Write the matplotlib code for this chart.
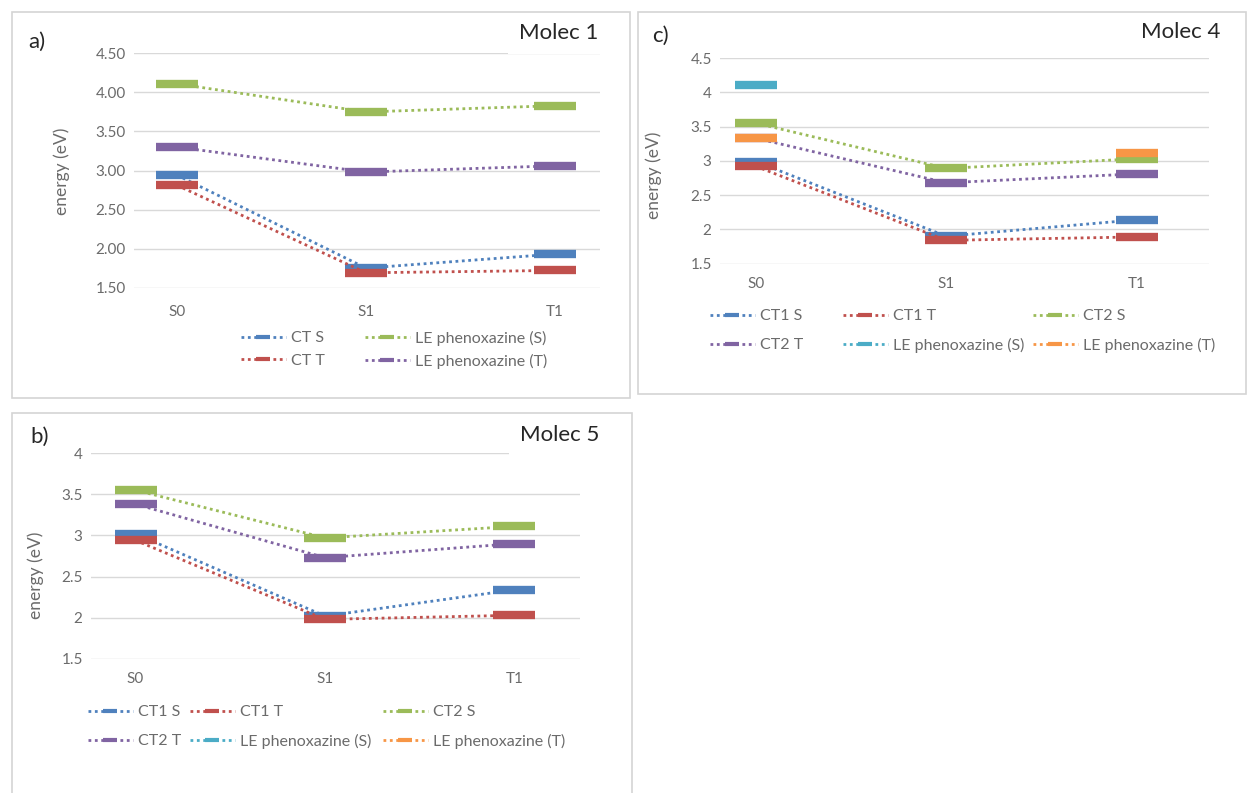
import numpy as np
import matplotlib
matplotlib.use('Agg')
import matplotlib.pyplot as plt
from matplotlib.lines import Line2D
from matplotlib.patches import Rectangle

plt.rcParams['font.family'] = ['Lato', 'DejaVu Sans']

W, H = 1248, 793
nan = np.nan

states = ['S0', 'S1', 'T1']

# panel a) Molec 1
a_ct_s = [2.94, 1.75, 1.93]
a_ct_t = [2.81, 1.69, 1.72]
a_le_s = [4.11, 3.75, 3.83]
a_le_t = [3.30, 2.98, 3.06]
a_yticks = [1.5, 2.0, 2.5, 3.0, 3.5, 4.0, 4.5]

# panel c) Molec 4
c_ct1_s = [2.99, 1.90, 2.14]
c_ct1_t = [2.92, 1.84, 1.89]
c_ct2_s = [3.55, 2.89, 3.03]
c_ct2_t = [3.33, 2.68, 2.81]
c_le_s = [4.10, nan, nan]
c_le_t = [3.34, nan, 3.11]
c_yticks = [1.5, 2.0, 2.5, 3.0, 3.5, 4.0, 4.5]

# panel b) Molec 5
b_ct1_s = [3.02, 2.02, 2.34]
b_ct1_t = [2.94, 1.98, 2.03]
b_ct2_s = [3.55, 2.97, 3.11]
b_ct2_t = [3.38, 2.73, 2.90]
b_le_s = [nan, nan, nan]
b_le_t = [nan, nan, nan]
b_yticks = [1.5, 2.0, 2.5, 3.0, 3.5, 4.0]

BLUE, RED, GREEN = '#4F81BD', '#C0504D', '#9BBB59'
PURPLE, CYAN, ORANGE = '#8064A2', '#4BACC6', '#F79646'
GREY = '#6b6b6b'
DOT = (0, (1, 1.3))


def fx(x):
    return x / W


def fy(y):
    return 1 - y / H


def panel(fig, box, series, yticks, fmt, xlim, xpad):
    l, t, r, b = box
    ax = fig.add_axes([fx(l), fy(b), (r - l) / W, (b - t) / H])
    x = np.arange(len(states))
    for vals, col in series:
        ax.plot(x, vals, color=col, ls=DOT, lw=2, marker='_', ms=30, mew=6)
    ax.set_xlim(*xlim)
    ax.set_ylim(yticks[0] - 0.005, yticks[-1] + 0.005)
    ax.set_yticks(yticks)
    ax.set_yticklabels([fmt.format(v) for v in yticks])
    ax.set_xticks(x)
    ax.set_xticklabels(states)
    ax.grid(axis='y', color='#d9d9d9', lw=1)
    ax.set_axisbelow(True)
    for s in ax.spines.values():
        s.set_visible(False)
    ax.tick_params(axis='y', length=0, colors=GREY, labelsize=11, pad=6)
    ax.tick_params(axis='x', length=0, colors=GREY, labelsize=11, pad=xpad)
    return ax


def legend_entry(fig, label, col, x, y):
    h = Line2D([], [], color=col, ls=DOT, lw=2, marker='_', ms=10, mew=3)
    fig.legend(handles=[h], labels=[label], loc='center left',
               bbox_to_anchor=(fx(x), fy(y)), frameon=False, borderpad=0,
               borderaxespad=0, handlelength=2.8, handletextpad=0.35,
               numpoints=1, fontsize=11.5, labelcolor=GREY)


fig = plt.figure(figsize=(12.48, 7.93), dpi=100)

# grey frames round each chart
for (l, t, r, b) in [(12, 12, 630, 398), (638, 12, 1246, 394), (12, 413, 632, 800)]:
    fig.add_artist(Rectangle((fx(l), fy(b)), (r - l) / W, (b - t) / H,
                             transform=fig.transFigure, fill=False,
                             ec='#d4d4d4', lw=1.2, zorder=10))

panel(fig, (134, 53, 600, 288),
      [(a_ct_s, BLUE), (a_ct_t, RED), (a_le_s, GREEN), (a_le_t, PURPLE)],
      a_yticks, '{:.2f}', (-0.228, 2.238), 12)
panel(fig, (720, 57.7, 1209, 264),
      [(c_ct1_s, BLUE), (c_ct1_t, RED), (c_ct2_s, GREEN), (c_ct2_t, PURPLE),
       (c_le_s, CYAN), (c_le_t, ORANGE)],
      c_yticks, '{:g}', (-0.189, 2.381), 9)
panel(fig, (91, 452.7, 580, 659.3),
      [(b_ct1_s, BLUE), (b_ct1_t, RED), (b_ct2_s, GREEN), (b_ct2_t, PURPLE),
       (b_le_s, CYAN), (b_le_t, ORANGE)],
      b_yticks, '{:g}', (-0.235, 2.346), 9)

# legends
legend_entry(fig, 'CT S', BLUE, 241, 338)
legend_entry(fig, 'CT T', RED, 241, 361)
legend_entry(fig, 'LE phenoxazine (S)', GREEN, 365, 338)
legend_entry(fig, 'LE phenoxazine (T)', PURPLE, 365, 361)

legend_entry(fig, 'CT1 S', BLUE, 710, 316)
legend_entry(fig, 'CT1 T', RED, 843, 316)
legend_entry(fig, 'CT2 S', GREEN, 1033, 316)
legend_entry(fig, 'CT2 T', PURPLE, 710, 345)
legend_entry(fig, 'LE phenoxazine (S)', CYAN, 843, 345)
legend_entry(fig, 'LE phenoxazine (T)', ORANGE, 1033, 345)

legend_entry(fig, 'CT1 S', BLUE, 88, 712)
legend_entry(fig, 'CT1 T', RED, 190, 712)
legend_entry(fig, 'CT2 S', GREEN, 383, 712)
legend_entry(fig, 'CT2 T', PURPLE, 88, 741)
legend_entry(fig, 'LE phenoxazine (S)', CYAN, 190, 741)
legend_entry(fig, 'LE phenoxazine (T)', ORANGE, 383, 741)

# axis titles, panel letters, molecule names
for x, y in [(62, 171), (654, 175), (36, 575)]:
    fig.text(fx(x), fy(y), 'energy (eV)', rotation=90, ha='center', va='center',
             fontsize=12.5, color=GREY)
for x, y, s in [(37, 42, 'a)'), (660, 36, 'c)'), (40, 437, 'b)')]:
    fig.text(fx(x), fy(y), s, ha='center', va='center', fontsize=16, color='#262626')
for x, y, s in [(598, 33, 'Molec 1'), (1220, 32, 'Molec 4'), (599, 435, 'Molec 5')]:
    fig.text(fx(x), fy(y), s, ha='right', va='center', fontsize=16, color='#262626',
             bbox=dict(fc='white', ec='none', pad=8))

fig.savefig('out.png', dpi=100)
